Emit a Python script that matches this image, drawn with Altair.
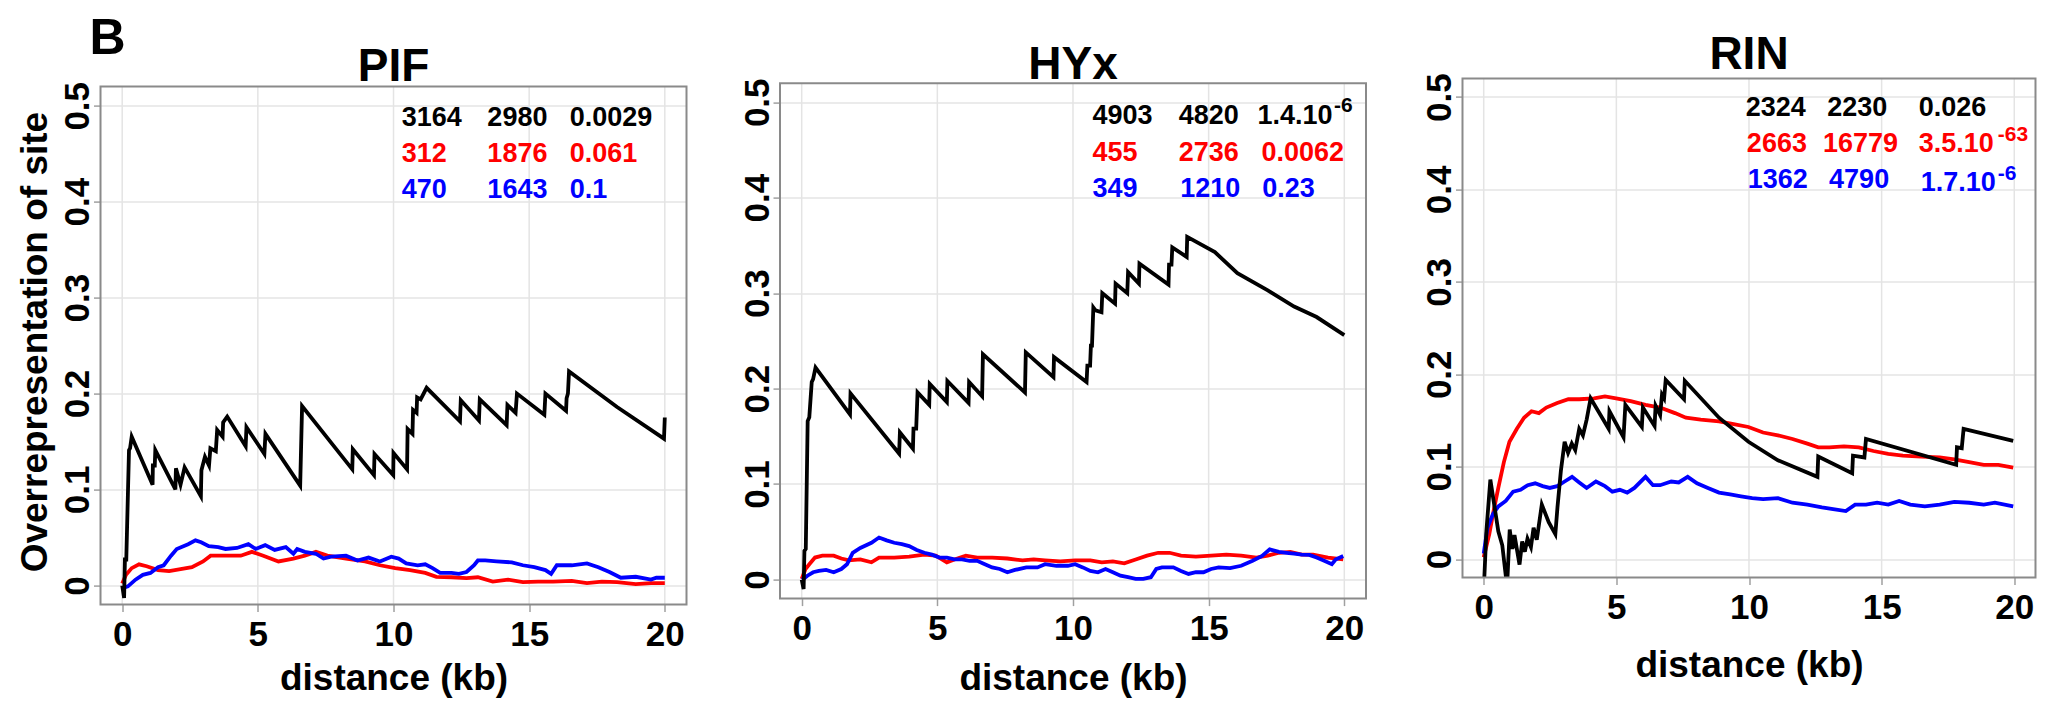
import altair as alt
import pandas as pd

FONT = "Liberation Sans"
BLACK, RED, BLUE = "#000000", "#ff0000", "#0000ff"
FRAME = "#8a8a8a"
GRID = "#e4e4e4"
X_TICKS = [0, 5, 10, 15, 20]
Y_TICKS = [0, 0.1, 0.2, 0.3, 0.4, 0.5]
XDOM = [-0.8, 20.8]
FRAME_Y = [-0.02, 0.52]

# ---------------- PIF ----------------
pif_black = [(0.0, 0.0), (0.07, -0.013), (0.1, 0.027), (0.15, 0.027), (0.25, 0.141), (0.29, 0.143),
             (0.35, 0.155), (1.12, 0.105), (1.13, 0.125), (1.2, 0.125), (1.22, 0.141), (1.96, 0.100),
             (1.98, 0.122), (2.15, 0.105), (2.3, 0.123), (2.9, 0.093), (2.92, 0.12), (3.05, 0.134),
             (3.2, 0.125), (3.25, 0.143), (3.45, 0.14), (3.5, 0.162), (3.7, 0.155), (3.72, 0.17),
             (3.87, 0.176), (4.55, 0.145), (4.58, 0.165), (5.24, 0.137), (5.28, 0.158), (6.56, 0.104),
             (6.63, 0.187), (8.48, 0.121), (8.5, 0.142), (9.28, 0.115), (9.3, 0.137), (9.99, 0.115),
             (10.0, 0.138), (10.5, 0.121), (10.52, 0.163), (10.7, 0.158), (10.72, 0.183), (10.85, 0.18),
             (10.87, 0.196), (11.0, 0.194), (11.22, 0.206), (12.45, 0.171), (12.48, 0.193), (13.15, 0.172),
             (13.18, 0.194), (14.17, 0.167), (14.2, 0.188), (14.5, 0.18), (14.55, 0.2), (15.56, 0.178),
             (15.6, 0.2), (16.36, 0.182), (16.38, 0.195), (16.43, 0.2), (16.47, 0.223), (18.24, 0.186),
             (19.97, 0.153), (20.0, 0.175)]
pif_red = [(0.0, 0.002), (0.14, 0.011), (0.35, 0.018), (0.62, 0.022), (0.9, 0.020), (1.32, 0.016),
           (1.73, 0.015), (2.15, 0.017), (2.57, 0.019), (2.98, 0.025), (3.26, 0.031), (3.81, 0.031),
           (4.37, 0.031), (4.78, 0.035), (5.2, 0.031), (5.76, 0.025), (6.31, 0.028), (6.73, 0.031),
           (7.14, 0.035), (7.56, 0.031), (8.25, 0.028), (8.95, 0.025), (9.5, 0.021), (10.06, 0.018),
           (10.61, 0.016), (11.17, 0.013), (11.58, 0.009), (12.14, 0.0085), (12.69, 0.0075),
           (13.11, 0.0085), (13.66, 0.004), (14.22, 0.006), (14.77, 0.0034), (15.33, 0.004),
           (15.88, 0.004), (16.57, 0.0048), (17.13, 0.0024), (17.68, 0.004), (18.24, 0.0034),
           (18.93, 0.0014), (19.49, 0.0024), (20.0, 0.0024)]
pif_blue = [(0.0, -0.003), (0.21, -0.001), (0.49, 0.006), (0.76, 0.011), (1.04, 0.013), (1.32, 0.019),
            (1.53, 0.021), (1.8, 0.031), (2.01, 0.038), (2.43, 0.043), (2.7, 0.047), (2.91, 0.045),
            (3.19, 0.041), (3.54, 0.040), (3.81, 0.038), (4.23, 0.039), (4.65, 0.043), (4.92, 0.038),
            (5.27, 0.042), (5.62, 0.037), (6.03, 0.040), (6.31, 0.033), (6.45, 0.038), (6.73, 0.035),
            (7.14, 0.033), (7.42, 0.028), (7.7, 0.030), (8.25, 0.031), (8.67, 0.026), (9.08, 0.029),
            (9.5, 0.025), (9.92, 0.030), (10.19, 0.028), (10.47, 0.023), (10.89, 0.021), (11.17, 0.022),
            (11.44, 0.018), (11.72, 0.013), (12.14, 0.013), (12.41, 0.012), (12.69, 0.014), (12.97, 0.021),
            (13.11, 0.026), (13.38, 0.026), (13.8, 0.025), (14.36, 0.024), (14.77, 0.021), (15.19, 0.019),
            (15.6, 0.016), (15.81, 0.012), (16.02, 0.021), (16.57, 0.021), (17.13, 0.023), (17.55, 0.019),
            (17.96, 0.014), (18.38, 0.008), (18.93, 0.009), (19.49, 0.006), (19.69, 0.008), (20.0, 0.008)]
pif_ann_text = ["3164", "2980", "0.0029", "312", "1876", "0.061", "470", "1643", "0.1"]
pif_ann_x = [10.3, 13.46, 16.5, 10.3, 13.46, 16.5, 10.3, 13.46, 16.5]
pif_ann_y = [0.487, 0.487, 0.487, 0.45, 0.45, 0.45, 0.412, 0.412, 0.412]

# ---------------- HYx ----------------
hyx_black = [(0.0, 0.0), (0.07, -0.01), (0.1, 0.03), (0.15, 0.032), (0.22, 0.166), (0.28, 0.17),
             (0.37, 0.207), (0.42, 0.21), (0.51, 0.222), (1.78, 0.173), (1.8, 0.195), (3.59, 0.132),
             (3.62, 0.154), (4.1, 0.137), (4.12, 0.158), (4.22, 0.158), (4.27, 0.196), (4.7, 0.183),
             (4.72, 0.205), (5.35, 0.186), (5.37, 0.208), (6.15, 0.185), (6.17, 0.207), (6.65, 0.192),
             (6.68, 0.236), (8.23, 0.196), (8.26, 0.238), (9.28, 0.212), (9.3, 0.233), (10.5, 0.207),
             (10.53, 0.224), (10.63, 0.224), (10.66, 0.245), (10.7, 0.245), (10.75, 0.285), (10.83, 0.282),
             (11.05, 0.28), (11.08, 0.3), (11.55, 0.289), (11.57, 0.31), (12.0, 0.30), (12.03, 0.322),
             (12.43, 0.31), (12.45, 0.331), (13.52, 0.309), (13.54, 0.33), (13.63, 0.33), (13.66, 0.348),
             (14.19, 0.338), (14.21, 0.359), (15.23, 0.343), (16.06, 0.321), (17.18, 0.303), (18.15, 0.286),
             (18.98, 0.275), (20.0, 0.256)]
hyx_red = [(0.0, 0.0007), (0.14, 0.011), (0.28, 0.016), (0.49, 0.023), (0.76, 0.025), (1.18, 0.025),
           (1.46, 0.022), (1.74, 0.020), (2.16, 0.021), (2.57, 0.018), (2.85, 0.023), (3.41, 0.023),
           (3.96, 0.024), (4.52, 0.026), (4.94, 0.025), (5.35, 0.018), (5.63, 0.021), (6.05, 0.025),
           (6.47, 0.023), (7.02, 0.023), (7.58, 0.022), (8.14, 0.020), (8.55, 0.021), (8.97, 0.020),
           (9.53, 0.019), (10.08, 0.020), (10.64, 0.020), (11.06, 0.018), (11.47, 0.019), (11.89, 0.017),
           (12.31, 0.021), (12.73, 0.025), (13.14, 0.028), (13.56, 0.028), (13.98, 0.025), (14.53, 0.024),
           (15.09, 0.025), (15.65, 0.026), (16.2, 0.025), (16.76, 0.023), (17.18, 0.025), (17.59, 0.028),
           (18.01, 0.029), (18.43, 0.026), (18.85, 0.026), (19.4, 0.023), (19.96, 0.021)]
hyx_blue = [(0.0, 0.0), (0.07, 0.0007), (0.21, 0.004), (0.42, 0.0076), (0.63, 0.009), (0.9, 0.010),
            (1.18, 0.0076), (1.46, 0.011), (1.67, 0.016), (1.88, 0.028), (2.16, 0.033), (2.57, 0.0385),
            (2.85, 0.044), (3.13, 0.041), (3.41, 0.0385), (3.69, 0.037), (3.96, 0.035), (4.24, 0.031),
            (4.52, 0.028), (4.8, 0.026), (5.08, 0.023), (5.35, 0.023), (5.63, 0.021), (5.91, 0.021),
            (6.19, 0.0196), (6.47, 0.0196), (6.75, 0.016), (7.02, 0.0127), (7.3, 0.011), (7.58, 0.0076),
            (7.86, 0.010), (8.28, 0.0127), (8.69, 0.0127), (8.97, 0.016), (9.39, 0.0144), (9.81, 0.0144),
            (10.08, 0.016), (10.36, 0.0127), (10.64, 0.009), (10.92, 0.0076), (11.2, 0.011), (11.47, 0.0076),
            (11.75, 0.004), (12.03, 0.0024), (12.31, 0.0007), (12.59, 0.0007), (12.87, 0.0024), (13.07, 0.011),
            (13.28, 0.0127), (13.7, 0.0127), (13.98, 0.009), (14.26, 0.0058), (14.53, 0.0076), (14.81, 0.0076),
            (15.09, 0.011), (15.37, 0.0127), (15.79, 0.012), (16.2, 0.0144), (16.62, 0.0196), (16.97, 0.0247),
            (17.25, 0.0316), (17.59, 0.029), (17.87, 0.028), (18.15, 0.027), (18.43, 0.026), (18.71, 0.0258),
            (18.98, 0.023), (19.26, 0.0196), (19.54, 0.016), (19.68, 0.021), (19.96, 0.0247)]
hyx_ann_text = ["4903", "4820", "1.4.10", "455", "2736", "0.0062", "349", "1210", "0.23"]
hyx_ann_x = [10.72, 13.9, 16.8, 10.72, 13.9, 16.95, 10.72, 13.95, 16.98]
hyx_ann_y = [0.486, 0.486, 0.486, 0.447, 0.447, 0.447, 0.409, 0.409, 0.409]
hyx_sup_text = ["-6"]
hyx_sup_x = [19.62]
hyx_sup_y = [0.4956]
hyx_sup_color = [BLACK]

# ---------------- RIN ----------------
rin_black = [(0.0, -0.035), (0.1, 0.03), (0.25, 0.086), (0.55, 0.03), (0.7, 0.015), (0.88, -0.03),
             (0.98, 0.032), (1.08, 0.011), (1.16, 0.026), (1.35, -0.006), (1.45, 0.019), (1.55, 0.008),
             (1.65, 0.022), (1.78, 0.013), (1.88, 0.034), (2.0, 0.021), (2.19, 0.059), (2.45, 0.04),
             (2.7, 0.027), (2.78, 0.056), (2.91, 0.096), (3.05, 0.127), (3.18, 0.115), (3.32, 0.125),
             (3.45, 0.118), (3.6, 0.141), (3.74, 0.134), (3.88, 0.151), (4.03, 0.174), (4.71, 0.141),
             (4.74, 0.16), (5.27, 0.132), (5.34, 0.167), (5.96, 0.143), (6.0, 0.164), (6.44, 0.144),
             (6.48, 0.166), (6.65, 0.156), (6.72, 0.178), (6.8, 0.174), (6.86, 0.194), (7.55, 0.173),
             (7.58, 0.193), (8.87, 0.153), (9.98, 0.127), (11.09, 0.107), (12.58, 0.089), (12.61, 0.111),
             (13.89, 0.093), (13.92, 0.112), (14.35, 0.11), (14.41, 0.13), (17.81, 0.102), (17.84, 0.121),
             (18.02, 0.12), (18.09, 0.141), (19.96, 0.128)]
rin_red = [(0.0, 0.002), (0.21, 0.027), (0.35, 0.049), (0.55, 0.077), (0.76, 0.105), (0.97, 0.127),
           (1.25, 0.141), (1.52, 0.153), (1.8, 0.160), (2.08, 0.158), (2.36, 0.164), (2.77, 0.169),
           (3.19, 0.173), (3.6, 0.173), (4.16, 0.174), (4.57, 0.176), (4.99, 0.174), (5.54, 0.171),
           (6.1, 0.167), (6.65, 0.164), (7.21, 0.158), (7.62, 0.153), (8.18, 0.151), (8.87, 0.149),
           (9.42, 0.146), (9.98, 0.143), (10.53, 0.137), (11.09, 0.134), (11.64, 0.130), (12.2, 0.125),
           (12.61, 0.121), (13.03, 0.121), (13.58, 0.122), (14.14, 0.121), (14.69, 0.117), (15.25, 0.114),
           (15.8, 0.112), (16.49, 0.111), (17.19, 0.110), (17.74, 0.108), (18.3, 0.105), (18.85, 0.102),
           (19.4, 0.102), (19.96, 0.099)]
rin_blue = [(0.0, 0.006), (0.14, 0.034), (0.35, 0.049), (0.55, 0.057), (0.83, 0.063), (1.11, 0.073),
            (1.39, 0.075), (1.66, 0.080), (1.94, 0.082), (2.22, 0.079), (2.49, 0.077), (2.77, 0.079),
            (3.05, 0.084), (3.33, 0.089), (3.6, 0.083), (3.88, 0.077), (4.23, 0.084), (4.57, 0.079),
            (4.85, 0.073), (5.13, 0.075), (5.41, 0.072), (5.68, 0.077), (6.1, 0.089), (6.38, 0.080),
            (6.65, 0.080), (7.07, 0.084), (7.35, 0.083), (7.69, 0.089), (8.04, 0.082), (8.45, 0.077),
            (8.87, 0.072), (9.29, 0.070), (9.7, 0.068), (10.12, 0.066), (10.53, 0.065), (11.09, 0.066),
            (11.64, 0.061), (12.2, 0.059), (12.75, 0.056), (13.17, 0.054), (13.65, 0.052), (14.0, 0.059),
            (14.41, 0.059), (14.83, 0.061), (15.25, 0.059), (15.66, 0.063), (16.08, 0.059), (16.63, 0.057),
            (17.19, 0.059), (17.74, 0.062), (18.3, 0.061), (18.85, 0.059), (19.27, 0.061), (19.96, 0.057)]
rin_ann_text = ["2324", "2230", "0.026", "2663", "16779", "3.5.10", "1362", "4790", "1.7.10"]
rin_ann_x = [9.88, 12.95, 16.4, 9.92, 12.79, 16.4, 9.95, 13.02, 16.47]
rin_ann_y = [0.488, 0.488, 0.488, 0.449, 0.449, 0.449, 0.41, 0.41, 0.407]
rin_sup_text = ["-63", "-6"]
rin_sup_x = [19.38, 19.38]
rin_sup_y = [0.459, 0.417]
rin_sup_color = [RED, BLUE]

ANN_COLORS = [BLACK] * 3 + [RED] * 3 + [BLUE] * 3


def pts_df(pts):
    return pd.DataFrame({"x": [p[0] for p in pts], "y": [p[1] for p in pts],
                         "i": list(range(len(pts)))})


def panel(title, title_y, black, red, blue, ann_t, ann_x, ann_y, sup, w, h, ytop,
          ytitle, xtitle_pad, show_b, right_pad):
    xs = alt.Scale(domain=XDOM, nice=False, zero=False)
    ys = alt.Scale(domain=[FRAME_Y[0], ytop], nice=False, zero=False)
    xax = alt.Axis(values=X_TICKS, title="distance (kb)", labelPadding=6,
                   titlePadding=xtitle_pad, labelFlush=False, grid=False)
    ykw = dict(values=Y_TICKS, format=".1~f", labelAngle=270, labelAlign="center",
               labelBaseline="alphabetic", labelPadding=5)
    if ytitle:
        yax = alt.Axis(title=ytitle, titlePadding=6, **ykw)
    else:
        yax = alt.Axis(title=None, **ykw)
    X = alt.X("x:Q", scale=xs, axis=xax)
    Y = alt.Y("y:Q", scale=ys, axis=yax)
    layers = []
    # vertical grid lines, kept inside the frame
    gdf = pd.DataFrame({"x": X_TICKS, "y": [FRAME_Y[0]] * 5, "y2": [FRAME_Y[1]] * 5})
    layers.append(alt.Chart(gdf).mark_rule(color=GRID, strokeWidth=1.5)
                  .encode(x=X, y=Y, y2="y2:Q"))
    for pts, col in ((red, RED), (blue, BLUE), (black, BLACK)):
        layers.append(alt.Chart(pts_df(pts)).mark_line(clip=True, color=col, strokeWidth=3.8)
                      .encode(x=X, y=Y, order="i:Q"))
    fdf = pd.DataFrame({"x": [XDOM[0]], "x2": [XDOM[1]], "y": [FRAME_Y[0]], "y2": [FRAME_Y[1]]})
    layers.append(alt.Chart(fdf).mark_rect(fillOpacity=0, stroke=FRAME, strokeWidth=2)
                  .encode(x=X, x2="x2:Q", y=Y, y2="y2:Q"))
    ann_df = pd.DataFrame({"x": ann_x, "y": ann_y, "t": ann_t, "c": ANN_COLORS})
    layers.append(alt.Chart(ann_df).mark_text(align="left", baseline="middle", font=FONT,
                                              fontSize=27, fontWeight="bold")
                  .encode(x=X, y=Y, text="t:N", color=alt.Color("c:N", scale=None)))
    if sup:
        sdf = pd.DataFrame({"x": sup[1], "y": sup[2], "t": sup[0], "c": sup[3]})
        layers.append(alt.Chart(sdf).mark_text(align="left", baseline="middle", font=FONT,
                                               fontSize=21, fontWeight="bold")
                      .encode(x=X, y=Y, text="t:N", color=alt.Color("c:N", scale=None)))
    tdf = pd.DataFrame({"t": [title]})
    layers.append(alt.Chart(tdf).mark_text(font=FONT, fontSize=46, fontWeight="bold",
                                           align="center", baseline="alphabetic", color=BLACK)
                  .encode(x=alt.value(w / 2), y=alt.value(title_y), text="t:N"))
    if show_b:
        bdf = pd.DataFrame({"t": ["B"]})
        layers.append(alt.Chart(bdf).mark_text(font=FONT, fontSize=50, fontWeight="bold",
                                               align="left", baseline="alphabetic", color=BLACK)
                      .encode(x=alt.value(-11), y=alt.value(-24.4), text="t:N"))
    if right_pad:
        # invisible spacer that widens the gap to the next panel
        sp = pd.DataFrame({"t": ["."]})
        layers.append(alt.Chart(sp).mark_text(font=FONT, fontSize=20, align="right",
                                              baseline="middle", opacity=0)
                      .encode(x=alt.value(w + right_pad), y=alt.value(h / 2), text="t:N"))
    return alt.layer(*layers).properties(width=w, height=h)


# all three views share their top edge; each frame sits inside its view
p1 = panel("PIF", 2, pif_black, pif_red, pif_blue, pif_ann_text, pif_ann_x, pif_ann_y, None,
           586, 526, 0.52834, "Overrepresentation of site", 8, True, 0)
p2 = panel("HYx", 0, hyx_black, hyx_red, hyx_blue, hyx_ann_text, hyx_ann_x, hyx_ann_y,
           (hyx_sup_text, hyx_sup_x, hyx_sup_y, hyx_sup_color),
           586, 520, 0.52482, None, 14, False, 5)
p3 = panel("RIN", -9.5, rin_black, rin_red, rin_blue, rin_ann_text, rin_ann_x, rin_ann_y,
           (rin_sup_text, rin_sup_x, rin_sup_y, rin_sup_color),
           573, 499, 0.52, None, 22, False, 0)

chart = alt.hconcat(p1, p2, p3, spacing=51.5).properties(
    background="white", padding={"left": 7.5, "top": 5.6, "right": 4, "bottom": 4}
).configure_view(strokeWidth=0).configure_axis(
    gridColor=GRID, gridWidth=1.5, tickColor="#a0a0a0", tickSize=7, tickWidth=1.5,
    domain=False, labelFont=FONT, labelFontSize=35, labelFontWeight="bold", labelColor=BLACK,
    titleFont=FONT, titleFontSize=37, titleFontWeight="bold", titleColor=BLACK)

chart.save("out.html", embed_options={"renderer": "svg", "actions": False})
